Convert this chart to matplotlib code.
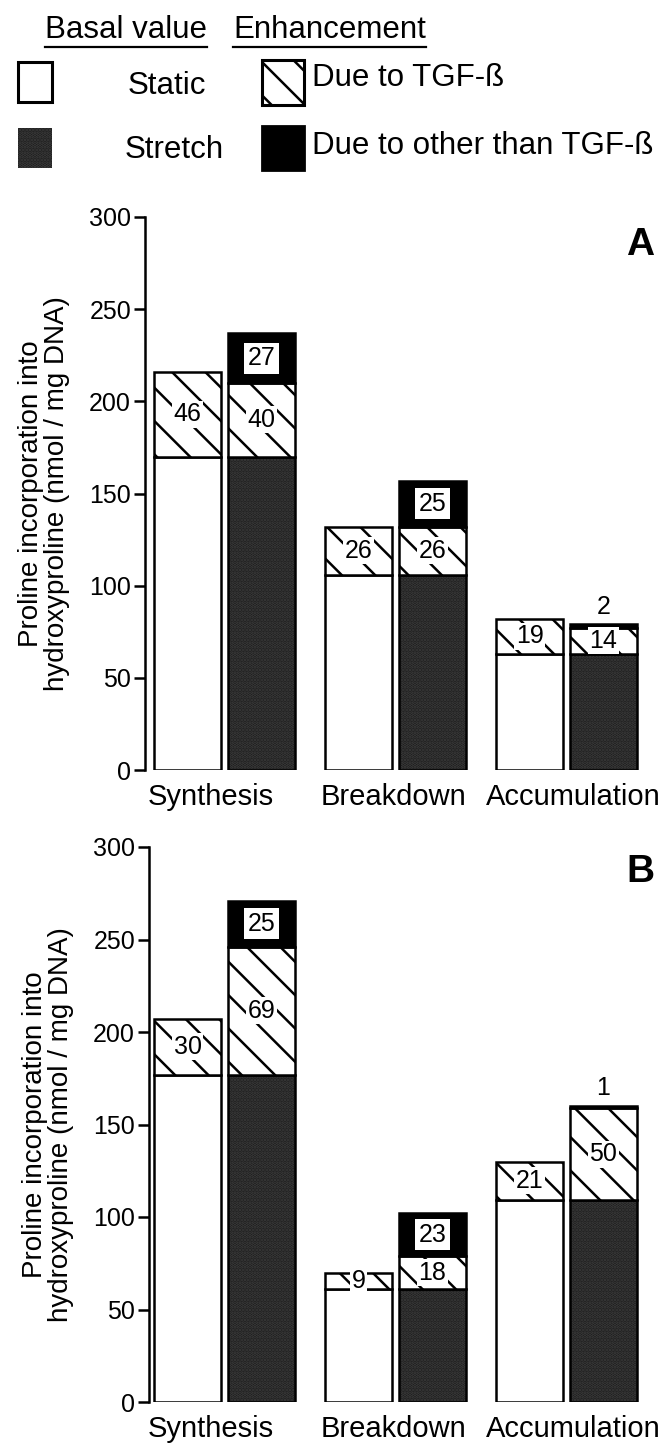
import matplotlib
matplotlib.use("Agg")
import matplotlib.pyplot as plt
from matplotlib.patches import Rectangle
import numpy as np

plt.rcParams['font.family'] = ['Liberation Sans', 'DejaVu Sans']
plt.rcParams['hatch.linewidth'] = 1.8

categories = ["Synthesis", "Breakdown", "Accumulation"]

# Panel A
A_static_basal = [170, 106, 63]
A_static_tgf = [46, 26, 19]
A_stretch_basal = [170, 106, 63]
A_stretch_tgf = [40, 26, 14]
A_stretch_other = [27, 25, 2]

# Panel B
B_static_basal = [177, 61, 109]
B_static_tgf = [30, 9, 21]
B_stretch_basal = [177, 61, 109]
B_stretch_tgf = [69, 18, 50]
B_stretch_other = [25, 23, 1]

yticks = [0, 50, 100, 150, 200, 250, 300]

W, H = 667, 1453
fig = plt.figure(figsize=(W / 100, H / 100), dpi=100)

# overlay axes in pixel coords for legend and letters
ov = fig.add_axes([0, 0, 1, 1])
ov.set_xlim(0, W)
ov.set_ylim(H, 0)
ov.axis('off')

STRETCH = '#1a1a1a'
DOTS = '#3e3e3e'
FS_BIG = 22.5
FS_CAT = 21
FS_TICK = 18
FS_NUM = 18
CAT_SHIFT = [-0.08, -0.01, 0.04]


def stretch_bar(ax, x, h, b, w):
    ax.bar(x, h, w, bottom=b, color=STRETCH, edgecolor=DOTS, hatch='.....', linewidth=0, zorder=2)
    ax.bar(x, h, w, bottom=b, fill=False, edgecolor='black', linewidth=1.8, zorder=3)


def draw_panel(rect_px, sb, st, xb, xt, xo, letter, letter_y):
    left, top, bottom, right = rect_px
    ax = fig.add_axes([left / W, (H - bottom) / H, (right - left) / W, (bottom - top) / H])
    px_per_unit = 171.0
    c0 = 224.5
    x0 = (left - c0) / px_per_unit
    ax.set_xlim(x0, x0 + (right - left) / px_per_unit)
    ax.set_ylim(0, 300)
    for s in ['top', 'right', 'bottom']:
        ax.spines[s].set_visible(False)
    ax.spines['left'].set_linewidth(1.8)
    ax.spines['left'].set_bounds(0, 300)
    ax.set_yticks(yticks)
    ax.set_yticklabels([str(t) for t in yticks], fontsize=FS_TICK)
    ax.tick_params(axis='y', length=8, width=1.8, pad=2)
    ax.set_xticks([])
    ax.patch.set_alpha(0)

    x = np.arange(len(categories))
    w = 0.39
    off = 0.215
    xs = x - off
    xr = x + off
    # static
    ax.bar(xs, sb, w, color='white', edgecolor='black', linewidth=1.8, zorder=3)
    ax.bar(xs, st, w, bottom=sb, color='white', edgecolor='black', hatch='\\', linewidth=1.8, zorder=3)
    # stretch
    stretch_bar(ax, xr, xb, 0, w)
    ax.bar(xr, xt, w, bottom=xb, color='white', edgecolor='black', hatch='\\', linewidth=1.8, zorder=3)
    bo = [a + b for a, b in zip(xb, xt)]
    ax.bar(xr, xo, w, bottom=bo, color='black', edgecolor='black', linewidth=1.8, zorder=3)

    for i in range(len(categories)):
        ax.text(xs[i], sb[i] + st[i] / 2, str(st[i]), ha='center', va='center', fontsize=FS_NUM, zorder=5,
                bbox=dict(facecolor='white', edgecolor='none', pad=1.0))
        ax.text(xr[i], xb[i] + xt[i] / 2, str(xt[i]), ha='center', va='center', fontsize=FS_NUM, zorder=5,
                bbox=dict(facecolor='white', edgecolor='none', pad=1.0))
        if xo[i] >= 10:
            ax.text(xr[i], bo[i] + xo[i] / 2, str(xo[i]), ha='center', va='center', fontsize=FS_NUM, zorder=5,
                    bbox=dict(facecolor='white', edgecolor='none', pad=2.5))
        else:
            ax.text(xr[i], bo[i] + xo[i] + 3, str(xo[i]), ha='center', va='bottom', fontsize=FS_NUM, zorder=5)
        ax.text(x[i] + CAT_SHIFT[i], -7, categories[i], ha='center', va='top', fontsize=FS_CAT)

    ax.set_ylabel("Proline incorporation into\nhydroxyproline (nmol / mg DNA)", fontsize=20, linespacing=1.0,
                  labelpad=14)
    ov.text(640, letter_y, letter, fontsize=28, fontweight='bold', ha='center', va='center')
    return ax


axA = draw_panel((145, 217, 770, 660), A_static_basal, A_static_tgf, A_stretch_basal, A_stretch_tgf,
                 A_stretch_other, 'A', 245)
axB = draw_panel((149, 847, 1402, 660), B_static_basal, B_static_tgf, B_stretch_basal, B_stretch_tgf,
                 B_stretch_other, 'B', 872)

# Legend
t1 = ov.text(45, 30, "Basal value", fontsize=FS_BIG, ha='left', va='center')
t2 = ov.text(233, 30, "Enhancement", fontsize=FS_BIG, ha='left', va='center')
ov.add_patch(Rectangle((18, 62), 34, 40, facecolor='white', edgecolor='black', linewidth=2.2))
ov.text(128, 86, "Static", fontsize=FS_BIG, ha='left', va='center')
ov.add_patch(Rectangle((18, 128), 34, 40, facecolor=STRETCH, edgecolor=DOTS, hatch='.....', linewidth=0))
ov.text(125, 150, "Stretch", fontsize=FS_BIG, ha='left', va='center')
ov.add_patch(Rectangle((262, 60), 42, 45, facecolor='white', edgecolor='black', hatch='\\', linewidth=2.2))
ov.text(312, 78, "Due to TGF-ß", fontsize=FS_BIG, ha='left', va='center')
ov.add_patch(Rectangle((262, 126), 42, 44, facecolor='black', edgecolor='black', linewidth=2))
ov.text(312, 146, "Due to other than TGF-ß", fontsize=FS_BIG, ha='left', va='center')

fig.canvas.draw()
r = fig.canvas.get_renderer()
inv = ov.transData.inverted()
for t in (t1, t2):
    bb = t.get_window_extent(r)
    (xa, ya), (xb_, yb) = inv.transform([[bb.x0, bb.y0], [bb.x1, bb.y1]])
    ov.plot([xa, xb_], [ya + 2, ya + 2], color='black', linewidth=1.6)

fig.savefig("out.png", dpi=100)
